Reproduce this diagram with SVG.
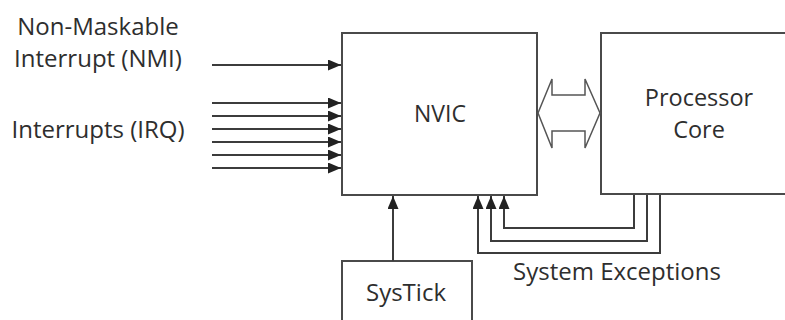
<svg xmlns="http://www.w3.org/2000/svg" width="785" height="320" viewBox="0 0 785 320">
<style>
.box{fill:#fff;stroke:#4a4a4a;stroke-width:2}
.ln{fill:none;stroke:#3c3c3c;stroke-width:2}
.t{font-family:"Open Sans","Liberation Sans",sans-serif;font-size:24px;fill:#2e2e2e;text-anchor:middle}
</style>
<defs>
<marker id="ah" markerWidth="13" markerHeight="11" viewBox="0 0 13 11" refX="13" refY="5.5" orient="auto" markerUnits="userSpaceOnUse">
<path d="M0,0 L13,5.5 L0,11 Z" fill="#222"/>
</marker>
</defs>
<rect width="785" height="320" fill="#fff"/>
<g id="nvic">
<rect class="box" x="342" y="33" width="195" height="162"/>
<text class="t" x="440" y="122" style="font-size:23px">NVIC</text>
</g>
<g id="processor">
<rect class="box" x="601" y="33" width="190" height="161"/>
<text class="t" x="699" y="106" style="font-size:23.5px">Processor</text>
<text class="t" x="699" y="138" style="font-size:23.5px">Core</text>
</g>
<g id="systick">
<rect class="box" x="342" y="261" width="130" height="70"/>
<text class="t" x="406" y="301">SysTick</text>
</g>
<g id="labels">
<text class="t" x="98" y="35">Non-Maskable</text>
<text class="t" x="98" y="67">Interrupt (NMI)</text>
<text class="t" x="98" y="138">Interrupts (IRQ)</text>
<text class="t" x="617" y="280">System Exceptions</text>
</g>
<g id="connectors">
<line class="ln" x1="212" y1="65" x2="341" y2="65" marker-end="url(#ah)"/>
<line class="ln" x1="212" y1="103" x2="341" y2="103" marker-end="url(#ah)"/>
<line class="ln" x1="212" y1="116" x2="341" y2="116" marker-end="url(#ah)"/>
<line class="ln" x1="212" y1="129" x2="341" y2="129" marker-end="url(#ah)"/>
<line class="ln" x1="212" y1="142" x2="341" y2="142" marker-end="url(#ah)"/>
<line class="ln" x1="212" y1="155" x2="341" y2="155" marker-end="url(#ah)"/>
<line class="ln" x1="212" y1="168" x2="341" y2="168" marker-end="url(#ah)"/>
<line class="ln" x1="393" y1="261" x2="393" y2="196" marker-end="url(#ah)"/>
<polyline class="ln" points="634,195 634,228 504,228 504,196" marker-end="url(#ah)"/>
<polyline class="ln" points="647,195 647,241 491,241 491,196" marker-end="url(#ah)"/>
<polyline class="ln" points="660,195 660,253 478,253 478,196" marker-end="url(#ah)"/>
<polygon points="538,113 552,79 552,95 585,95 585,79 600,113 585,148 585,131 552,131 552,148" fill="#fff" stroke="#555" stroke-width="1.5" stroke-linejoin="miter"/>
</g>
</svg>
